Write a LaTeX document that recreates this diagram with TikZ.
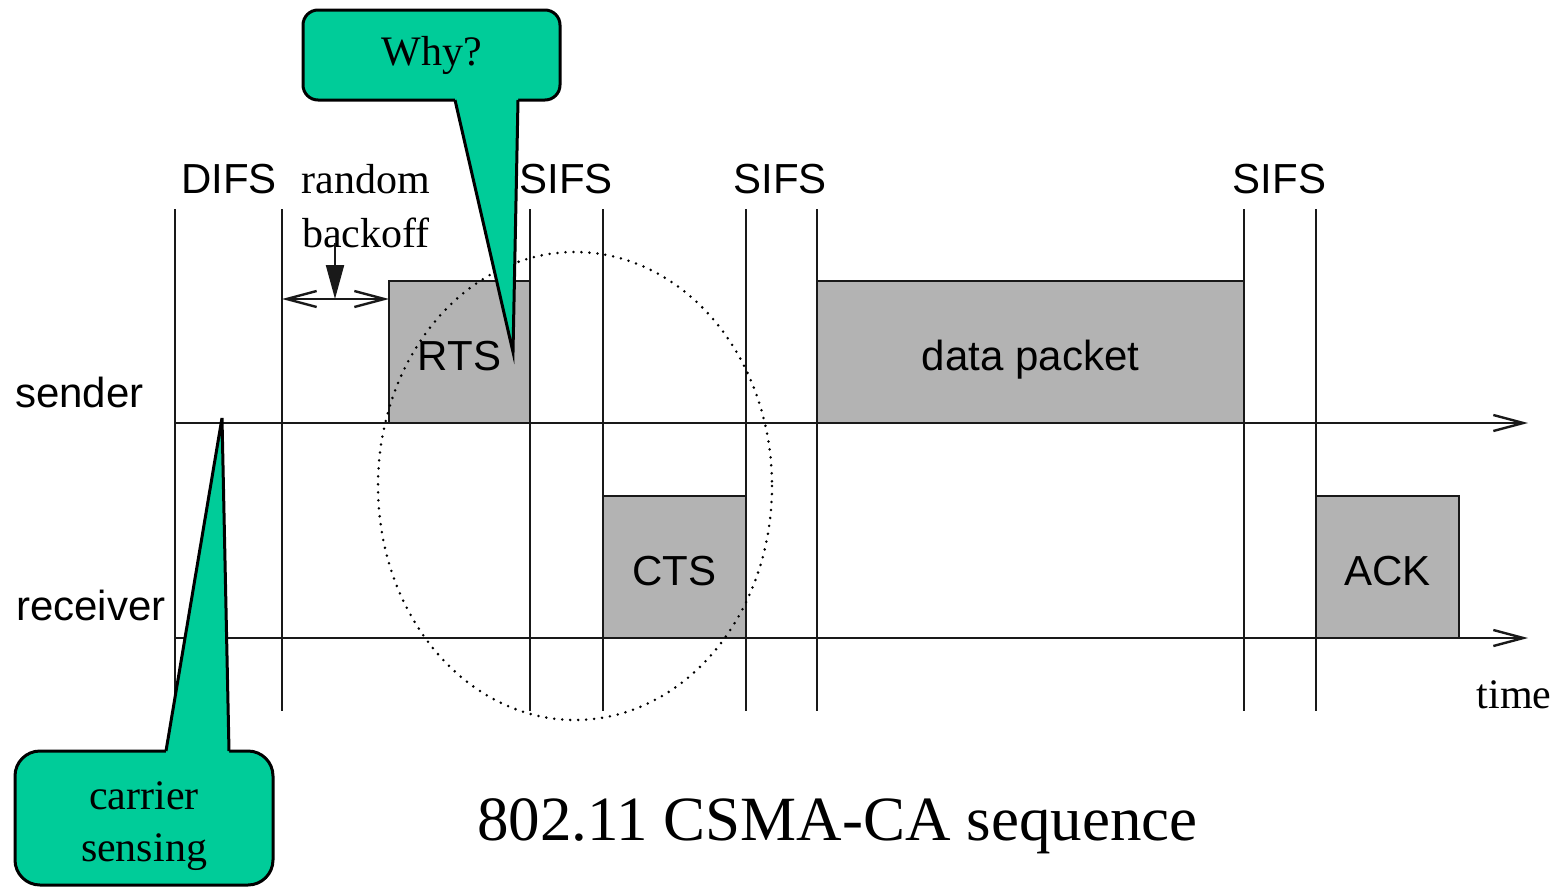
\documentclass[tikz,border=0pt]{standalone}
\usepackage{fontspec}
\setmainfont{Liberation Serif}
\setsansfont{Liberation Sans}
\usetikzlibrary{arrows.meta}
\definecolor{callgreen}{RGB}{0,204,153}
\definecolor{boxgray}{RGB}{179,179,179}
\begin{document}
\begin{tikzpicture}[x=1pt,y=-1pt,
  thinline/.style={line width=2.1pt, draw=black!90},
  frame/.style={draw=black!90, line width=2.1pt, fill=boxgray, inner sep=0pt,
    minimum height=142pt, text height=36pt, text depth=0pt,
    font=\sffamily\fontsize{42}{50}\selectfont},
  sanslbl/.style={inner sep=0pt, anchor=base, font=\sffamily\fontsize{42}{50}\selectfont},
  seriflbl/.style={inner sep=0pt, anchor=base, font=\fontsize{42}{50}\selectfont},
  callbox/.style={draw=black, line width=3pt, fill=callgreen, inner sep=0pt},
  callline/.style={draw=black, line width=3pt},
  axisarrow/.style={thinline, -{Straight Barb[length=30pt,width=16pt,line width=2.4pt]}},
]
\useasboundingbox (0,0) rectangle (1558,887);

% vertical time markers
\foreach \x/\n in {175/a,282/b,530/c,603/d,746/e,817/f,1244/g,1316/h}{
  \coordinate (top\n) at (\x,209);
  \coordinate (bot\n) at (\x,711);
  \draw[thinline] (top\n) -- (bot\n);
}

% axes
\coordinate (sstart) at (175,423);
\coordinate (send) at (1528,423);
\coordinate (rstart) at (175,638);
\coordinate (rend) at (1528,638);
\draw[axisarrow] (sstart) -- (send);
\draw[axisarrow] (rstart) -- (rend);

% frames
\node[frame, minimum width=141pt] (rts) at (459.5,352) {RTS};
\node[frame, minimum width=427pt] (data) at (1030.5,352) {data packet};
\node[frame, minimum width=143pt] (cts) at (674.5,567) {CTS};
\node[frame, minimum width=143pt] (ack) at (1387.5,567) {ACK};

% dotted ellipse
\draw[line width=2.8pt, line cap=round, dash pattern=on 0pt off 8pt] (575,486) ellipse [x radius=197, y radius=234];

% labels
\node[sanslbl] (difs) at (229,193) {DIFS};
\node[sanslbl] (sifs1) at (566,193) {SIFS};
\node[sanslbl] (sifs2) at (780,193) {SIFS};
\node[sanslbl] (sifs3) at (1279.5,193) {SIFS};
\node[sanslbl, anchor=base west] (sender) at (15,407) {sender};
\node[sanslbl, anchor=base west] (receiver) at (16,620) {receiver};
\node[seriflbl] (time) at (1514,708) {time};
\node[inner sep=0pt, align=center, font=\fontsize{42}{54}\selectfont] (backoff) at (366,206) {random\\backoff};
\node[inner sep=0pt, anchor=base, font=\fontsize{63}{70}\selectfont] (title) at (837.5,840) {802.11 CSMA-CA sequence};

% backoff arrows
\coordinate (bkL) at (282,299);
\coordinate (bkR) at (389,299);
\coordinate (bkT) at (335,243);
\coordinate (bkB) at (335,299);
\draw[thinline, {Straight Barb[length=30pt,width=16pt,line width=2.4pt]}-{Straight Barb[length=30pt,width=16pt,line width=2.4pt]}] (bkL) -- (bkR);
\draw[thinline, -{Triangle[length=34pt,width=18pt]}] (bkT) -- (bkB);

% Why? callout
\node[callbox, rounded corners=15pt, minimum width=257pt, minimum height=90pt,
  font=\fontsize{42}{50}\selectfont] (why) at (431.5,55) {Why?};
\coordinate (whyL) at (455,100);
\coordinate (whyR) at (518,100);
\coordinate (whyTip) at (513,352);
\fill[callgreen] (whyL) -- (whyTip) -- (whyR) -- (518,96) -- (455,96) -- cycle;
\draw[callline] (whyL) -- (whyTip) -- (whyR);

% carrier sensing callout
\node[callbox, rounded corners=25pt, minimum width=258pt, minimum height=134pt] (cs) at (144,818) {};
\node[inner sep=0pt, align=center, font=\fontsize{42}{52}\selectfont] (cstext) at (144,826) {carrier\\sensing};
\coordinate (csL) at (166,751);
\coordinate (csR) at (229,751);
\coordinate (csTip) at (222,418);
\fill[callgreen] (csL) -- (csTip) -- (csR) -- (229,755) -- (166,755) -- cycle;
\draw[callline] (csL) -- (csTip) -- (csR);
\end{tikzpicture}
\end{document}
